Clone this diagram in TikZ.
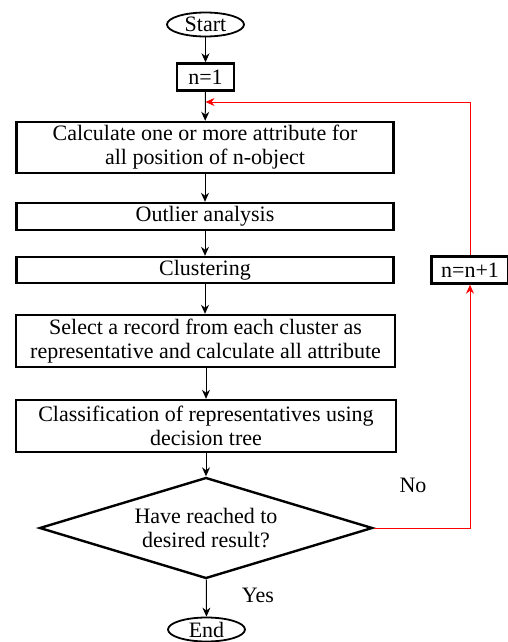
\documentclass[tikz,border=0pt]{standalone}
\usepackage{fontspec}
\setmainfont{Liberation Serif}
\usetikzlibrary{shapes.geometric,arrows.meta}

\tikzset{
  process/.style={draw, line width=2.4pt, inner sep=0pt, align=center, minimum width=377pt},
  term/.style={draw, ellipse, line width=1.8pt, inner sep=0pt, minimum width=77pt, minimum height=24pt},
  decision/.style={draw, diamond, aspect=3.3, line width=2.4pt, inner sep=0pt, align=center, minimum width=333pt, minimum height=101pt},
  flow/.style={-{Stealth[length=9pt,width=8pt]}, line width=1pt},
  loopback/.style={flow, red, line width=0.9pt},
}

\begin{document}
\begin{tikzpicture}[x=1pt, y=-1pt, font=\fontsize{22}{24}\selectfont]
\useasboundingbox (0,0) rectangle (507,642);
\node[term] (start) at (205.5,24.5) {Start};
\node[process, minimum width=57pt, minimum height=27pt] (init) at (205.5,77) {n=1};
\coordinate (join) at (205.5,102);
\node[process, minimum height=51pt] (calc) at (205,147.5) {Calculate one or more attribute for\\all position of n-object};
\node[process, minimum height=27pt] (outlier) at (205,216.5) {Outlier analysis};
\node[process, minimum height=26pt] (cluster) at (205,270) {Clustering};
\node[process, minimum width=379pt, minimum height=52pt] (select) at (205.5,341) {Select a record from each cluster as\\representative and calculate all attribute};
\node[process, minimum width=380pt, minimum height=52pt] (classify) at (206,426) {Classification of representatives using\\decision tree};
\node[decision] (decide) at (206,528) {Have reached to\\desired result?};
\node[term] (end) at (206.5,629.5) {End};
\node[process, minimum width=77pt, minimum height=27pt] (incr) at (470,270) {n=n+1};
\node (no) at (413,485) {No};
\node (yes) at (258,595) {Yes};

\draw[flow] (start) -- (init);
\draw[flow] (init) -- (calc);
\draw[flow] (calc) -- (outlier);
\draw[flow] (outlier) -- (cluster);
\draw[flow] (cluster) -- (select.north -| cluster);
\draw[flow] (select.south -| classify) -- (classify);
\draw[flow] (classify) -- (decide);
\draw[flow] (decide) -- (end);
\draw[loopback] (decide.east) -| (incr.south);
\draw[loopback] (incr.north) |- (join);
\end{tikzpicture}
\end{document}
